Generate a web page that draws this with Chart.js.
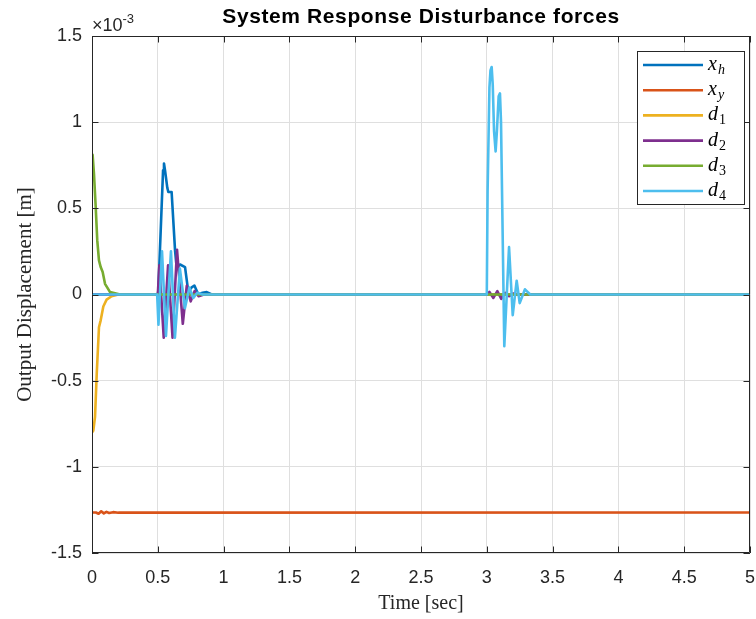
<!DOCTYPE html>
<html>
<head>
<meta charset="utf-8">
<script src="https://cdn.jsdelivr.net/npm/chart.js@4"></script>
<style>
  html, body { margin: 0; padding: 0; background: #fff; }
  #wrap { width: 756px; height: 619px; }
</style>
</head>
<body>
<div id="wrap"><canvas id="chart" width="756" height="619"></canvas></div>
<script>
// values in units of 1e-3 m, time in seconds
const xTicks = [0, 0.5, 1, 1.5, 2, 2.5, 3, 3.5, 4, 4.5, 5];
const yTicks = [-1.5, -1, -0.5, 0, 0.5, 1, 1.5];

const seriesNames = ["x|h", "x|y", "d|1", "d|2", "d|3", "d|4"];
const seriesColors = ["#0072BD", "#D95319", "#EDB120", "#7E2F8E", "#77AC30", "#4DBEEE"];

const xhTime = [0, 0.5, 0.504, 0.54, 0.547, 0.555, 0.572, 0.58, 0.605, 0.631, 0.643, 0.669, 0.707, 0.732, 0.755, 0.778, 0.808, 0.84, 0.872, 0.91, 5];
const xhVal  = [0, 0, 0.02, 0.72, 0.76, 0.72, 0.62, 0.595, 0.595, 0.256, 0.159, 0.174, 0.159, 0.014, 0.04, 0.052, 0.0, 0.01, 0.014, 0, 0];

const xyTime = [0, 0.03, 0.05, 0.07, 0.09, 0.11, 0.13, 0.16, 0.2, 5];
const xyVal  = [-1.265, -1.265, -1.272, -1.258, -1.27, -1.261, -1.268, -1.263, -1.266, -1.265];

const d1Time = [0, 0.01, 0.023, 0.036, 0.053, 0.066, 0.086, 0.111, 0.149, 0.2, 5];
const d1Val  = [-0.8, -0.79, -0.71, -0.46, -0.19, -0.15, -0.07, -0.03, -0.01, 0, 0];

const d2Time = [0, 0.5, 0.512, 0.545, 0.578, 0.612, 0.646, 0.69, 0.72, 0.75, 0.78, 0.81, 0.85, 3.0, 3.02, 3.05, 3.08, 3.11, 3.14, 3.17, 3.2, 3.25, 5];
const d2Val  = [0, 0, 0.17, -0.25, 0.17, -0.25, 0.26, -0.17, 0.05, -0.04, 0.02, -0.01, 0, 0, 0.015, -0.02, 0.02, -0.025, 0.01, -0.01, 0.005, 0, 0];

const d3Time = [0, 0.005, 0.015, 0.028, 0.04, 0.053, 0.066, 0.081, 0.099, 0.137, 0.213, 5];
const d3Val  = [0.81, 0.808, 0.70, 0.51, 0.314, 0.198, 0.159, 0.13, 0.062, 0.014, 0, 0];

const d4Time = [0, 0.495, 0.505, 0.532, 0.562, 0.6, 0.63, 0.668, 0.706, 0.74, 0.77, 0.8, 0.84,
  3.0, 3.006, 3.02, 3.028, 3.037, 3.045, 3.055, 3.067, 3.077, 3.09, 3.1, 3.108, 3.133, 3.169, 3.197, 3.227, 3.25, 3.29, 3.33, 5];
const d4Val  = [0, 0, -0.175, 0.25, -0.24, 0.25, -0.25, 0.15, -0.08, 0.04, -0.02, 0.01, 0,
  0, 0.6, 1.2, 1.3, 1.32, 1.22, 0.95, 0.83, 0.95, 1.15, 1.167, 1.0, -0.3, 0.275, -0.12, 0.08, -0.05, 0.03, 0, 0];

const times = [xhTime, xyTime, d1Time, d2Time, d3Time, d4Time];
const vals = [xhVal, xyVal, d1Val, d2Val, d3Val, d4Val];

const datasets = seriesNames.map((name, i) => ({
  label: name,
  data: times[i].map((t, k) => ({ x: t, y: vals[i][k] })),
  borderColor: seriesColors[i],
  backgroundColor: seriesColors[i],
  borderWidth: 2.6,
  borderJoinStyle: "round",
  pointRadius: 0,
  tension: 0,
  order: seriesNames.length - i, // later series drawn on top, like MATLAB
}));

const axisColor = "#262626";

const decorations = {
  id: "decorations",
  afterDraw(chart) {
    const ctx = chart.ctx;
    const a = chart.chartArea;
    const xs = chart.scales.x, ys = chart.scales.y;
    ctx.save();

    // box and inward ticks
    ctx.strokeStyle = axisColor;
    ctx.lineWidth = 1;
    ctx.beginPath();
    ctx.rect(a.left + 0.5, a.top + 0.5, a.right - a.left - 1, a.bottom - a.top - 1);
    const tl = 6.5;
    xTicks.forEach((v) => {
      const px = Math.round(xs.getPixelForValue(v)) + 0.5;
      ctx.moveTo(px, a.bottom); ctx.lineTo(px, a.bottom - tl);
      ctx.moveTo(px, a.top); ctx.lineTo(px, a.top + tl);
    });
    yTicks.forEach((v) => {
      const py = Math.round(ys.getPixelForValue(v)) + 0.5;
      ctx.moveTo(a.left, py); ctx.lineTo(a.left + tl, py);
      ctx.moveTo(a.right, py); ctx.lineTo(a.right - tl, py);
    });
    ctx.stroke();

    // title
    const cx = (a.left + a.right) / 2;
    ctx.fillStyle = "#000";
    ctx.font = "bold 21px 'Liberation Sans', Arial, sans-serif";
    ctx.letterSpacing = "0.6px";
    ctx.textAlign = "center";
    ctx.textBaseline = "middle";
    ctx.fillText("System Response Disturbance forces", cx, 17);
    ctx.letterSpacing = "0px";

    // axis titles
    ctx.fillStyle = axisColor;
    ctx.font = "20px 'Liberation Serif', 'Times New Roman', serif";
    ctx.fillText("Time [sec]", cx, 604);
    ctx.save();
    ctx.translate(25, (a.top + a.bottom) / 2);
    ctx.rotate(-Math.PI / 2);
    ctx.font = "21px 'Liberation Serif', 'Times New Roman', serif";
    ctx.fillText("Output Displacement [m]", 0, 0);
    ctx.restore();

    // exponent
    ctx.textAlign = "left";
    ctx.textBaseline = "alphabetic";
    ctx.font = "18px 'Liberation Sans', Arial, sans-serif";
    ctx.fillText("\u00d710", a.left, 31);
    const w = ctx.measureText("\u00d710").width;
    ctx.font = "13px 'Liberation Sans', Arial, sans-serif";
    ctx.fillText("-3", a.left + w, 23);

    // legend
    const lx = 637.5, ly = 51.5, lw = 107, lh = 153;
    ctx.fillStyle = "#fff";
    ctx.fillRect(lx, ly, lw, lh);
    ctx.strokeStyle = "#262626";
    ctx.lineWidth = 1;
    ctx.strokeRect(lx, ly, lw, lh);
    chart.data.datasets.forEach((ds, i) => {
      const y = 65 + i * 25.2;
      ctx.strokeStyle = ds.borderColor;
      ctx.lineWidth = 2.6;
      ctx.beginPath();
      ctx.moveTo(643, y); ctx.lineTo(703, y);
      ctx.stroke();
      const parts = ds.label.split("|");
      ctx.fillStyle = "#000";
      ctx.font = "italic 20px 'Liberation Serif', 'Times New Roman', serif";
      ctx.textBaseline = "alphabetic";
      ctx.fillText(parts[0], 708, y + 5);
      const bw = ctx.measureText(parts[0]).width;
      const isNum = /^[0-9]$/.test(parts[1]);
      ctx.font = (isNum ? "" : "italic ") + "14px 'Liberation Serif', 'Times New Roman', serif";
      ctx.fillText(parts[1], 708 + bw + 1, y + 9);
    });

    ctx.restore();
  },
};

new Chart(document.getElementById("chart"), {
  type: "line",
  data: { datasets },
  options: {
    responsive: false,
    animation: false,
    devicePixelRatio: 1,
    layout: { padding: { left: 0, right: 6, top: 36, bottom: 0 } },
    plugins: { legend: { display: false }, tooltip: { enabled: false }, title: { display: false } },
    scales: {
      x: {
        type: "linear",
        min: 0,
        max: 5,
        afterBuildTicks: (scale) => { scale.ticks = xTicks.map((v) => ({ value: v })); },
        afterFit: (scale) => {
          scale.height = 66;
          scale.paddingLeft = 0;
          scale.paddingRight = 0;
        },
        ticks: {
          color: axisColor,
          padding: 14,
          maxRotation: 0,
          font: { family: "'Liberation Sans', Arial, sans-serif", size: 18 },
          callback: (v) => String(v),
        },
        grid: { color: "#dfdfdf", drawTicks: false },
        border: { display: false },
      },
      y: {
        type: "linear",
        min: -1.5,
        max: 1.5,
        afterBuildTicks: (scale) => { scale.ticks = yTicks.map((v) => ({ value: v })); },
        afterFit: (scale) => {
          scale.width = 92;
          scale.paddingTop = 0;
          scale.paddingBottom = 0;
        },
        ticks: {
          color: axisColor,
          padding: 10,
          font: { family: "'Liberation Sans', Arial, sans-serif", size: 18 },
          callback: (v) => String(v),
        },
        grid: { color: "#dfdfdf", drawTicks: false },
        border: { display: false },
      },
    },
  },
  plugins: [decorations],
});
</script>
</body>
</html>
